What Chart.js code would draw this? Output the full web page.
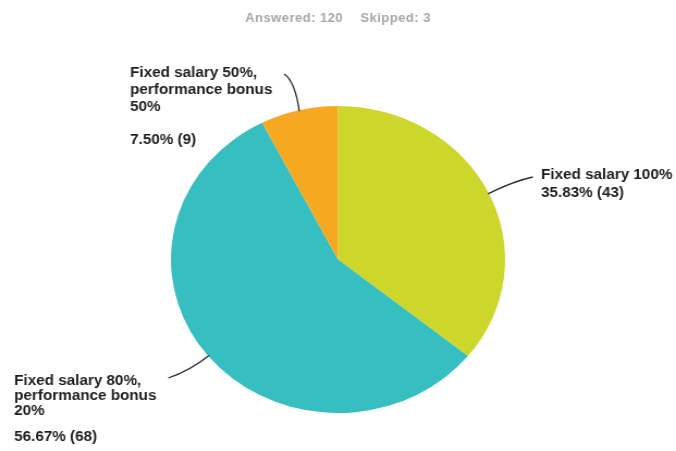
<!DOCTYPE html>
<html>
<head>
<meta charset="utf-8">
<title>Salary structure preference</title>
<script src="https://cdn.jsdelivr.net/npm/chart.js@4"></script>
<style>
  html, body { margin: 0; padding: 0; background: #ffffff; overflow: hidden; }
  #wrap { width: 621px; height: 451px; transform: scaleX(1.0886); transform-origin: 0 0; }
  canvas { display: block; }
</style>
</head>
<body>
<div id="wrap"><canvas id="c" width="621" height="451"></canvas></div>
<script>
// Survey answers: number of respondents per salary structure
const categories = [
  'Fixed salary 100%',
  'Fixed salary 80%, performance bonus 20%',
  'Fixed salary 50%, performance bonus 50%'
];
const labelLines = [
  ['Fixed salary 100%'],
  ['Fixed salary 80%,', 'performance bonus', '20%'],
  ['Fixed salary 50%,', 'performance bonus', '50%']
];
const counts = [43, 68, 9];
const percents = [35.83, 56.67, 7.50];
const answered = 120;
const skipped = 3;
const colors = ['#cdd62b', '#36bec1', '#f6a920'];

// Where each callout sits: text anchor, line rows, leader end and bend
const callouts = [
  { x: 497, rows: [175, 193], end: [489.5, 177], bend: [472, 181] },
  { x: 13, rows: [381, 396, 411, 437], end: [154.5, 378], bend: [174, 371] },
  { x: 119.5, rows: [73, 90, 107, 140], end: [261, 74], bend: [271, 81] }
];

const calloutPlugin = {
  id: 'callouts',
  afterDraw(chart) {
    const ctx = chart.ctx;
    const meta = chart.getDatasetMeta(0);
    ctx.save();

    // header
    ctx.font = 'bold 12px "Liberation Sans", Arial, sans-serif';
    ctx.letterSpacing = '0.4px';
    ctx.fillStyle = '#a6a6a6';
    ctx.textBaseline = 'middle';
    ctx.textAlign = 'left';
    const a = 'Answered: ' + answered;
    const s = 'Skipped: ' + skipped;
    const gap = 16;
    const wa = ctx.measureText(a).width;
    const ws = ctx.measureText(s).width;
    let hx = chart.width / 2 - (wa + gap + ws) / 2;
    ctx.fillText(a, hx, 19);
    ctx.fillText(s, hx + wa + gap, 19);

    ctx.letterSpacing = '0px';
    meta.data.forEach((arc, i) => {
      const c = callouts[i];
      const mid = (arc.startAngle + arc.endAngle) / 2;
      const sx = arc.x + Math.cos(mid) * (arc.outerRadius - 1);
      const sy = arc.y + Math.sin(mid) * (arc.outerRadius - 1);
      ctx.beginPath();
      ctx.moveTo(sx, sy);
      ctx.quadraticCurveTo(c.bend[0], c.bend[1], c.end[0], c.end[1]);
      ctx.strokeStyle = '#2a2a2a';
      ctx.lineWidth = 1.3;
      ctx.stroke();

      ctx.font = 'bold 14px "Liberation Sans", Arial, sans-serif';
      ctx.fillStyle = '#1e1e1e';
      const lines = labelLines[i].slice();
      lines.push(percents[i].toFixed(2) + '% (' + counts[i] + ')');
      lines.forEach((t, k) => ctx.fillText(t, c.x, c.rows[k]));
    });
    ctx.restore();
  }
};

new Chart(document.getElementById('c'), {
  type: 'pie',
  data: {
    labels: categories,
    datasets: [{
      data: counts,
      backgroundColor: colors,
      borderWidth: 0,
      hoverOffset: 0,
      offset: 0
    }]
  },
  options: {
    responsive: false,
    animation: false,
    layout: { padding: { top: 106, bottom: 38, left: 157, right: 157 } },
    plugins: {
      legend: { display: false },
      tooltip: { enabled: false },
      title: { display: false }
    }
  },
  plugins: [calloutPlugin]
});
</script>
</body>
</html>
